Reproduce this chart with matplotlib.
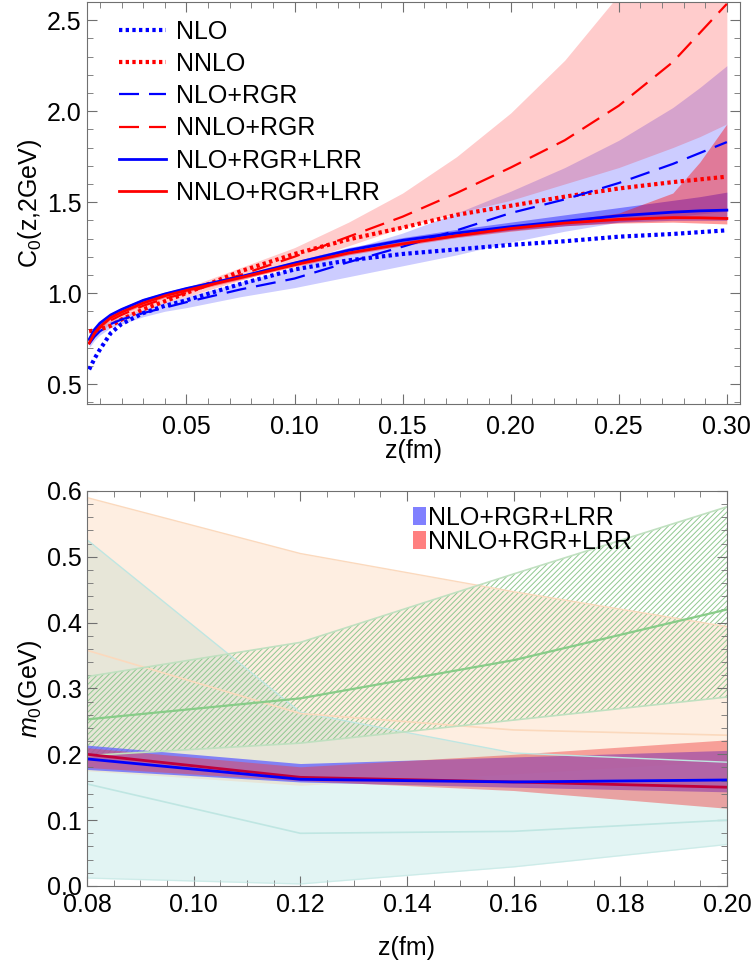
import numpy as np
import matplotlib
matplotlib.use("Agg")
import matplotlib.pyplot as plt
from matplotlib.patches import Patch
from matplotlib.ticker import MultipleLocator

plt.rcParams['font.family'] = ['Liberation Sans', 'DejaVu Sans']
plt.rcParams['mathtext.fontset'] = 'custom'
plt.rcParams['mathtext.rm'] = 'Liberation Sans'
plt.rcParams['mathtext.it'] = 'Liberation Sans:italic'
plt.rcParams['hatch.linewidth'] = 0.7

FS = 18

# ---- top panel: C0(z, 2GeV) ----
z_top = [0.005, 0.0075, 0.01, 0.015, 0.02, 0.03, 0.04, 0.05, 0.075, 0.10, 0.125,
         0.15, 0.175, 0.20, 0.225, 0.25, 0.275, 0.2875, 0.30]

nlo = [0.58, 0.64, 0.69, 0.78, 0.83, 0.89, 0.93, 0.96, 1.05, 1.13, 1.18,
       1.215, 1.24, 1.265, 1.285, 1.31, 1.325, 1.335, 1.345]
nnlo = [0.79, 0.795, 0.80, 0.82, 0.855, 0.91, 0.955, 1.0, 1.12, 1.215, 1.295,
        1.36, 1.43, 1.48, 1.53, 1.575, 1.61, 1.625, 1.64]
nlo_rgr = [0.72, 0.76, 0.79, 0.83, 0.855, 0.89, 0.92, 0.95, 1.02, 1.08, 1.17,
           1.255, 1.345, 1.44, 1.515, 1.605, 1.71, 1.77, 1.83]
nnlo_rgr = [0.74, 0.78, 0.81, 0.85, 0.88, 0.93, 0.97, 1.0, 1.10, 1.20, 1.31,
            1.42, 1.55, 1.69, 1.84, 2.03, 2.27, 2.43, 2.59]
nlo_lrr = [0.745, 0.80, 0.835, 0.88, 0.91, 0.96, 0.995, 1.025, 1.09, 1.165, 1.235,
           1.29, 1.33, 1.365, 1.395, 1.425, 1.445, 1.452, 1.456]
nnlo_lrr = [0.725, 0.78, 0.815, 0.865, 0.895, 0.945, 0.985, 1.015, 1.085, 1.155, 1.22,
            1.27, 1.315, 1.355, 1.385, 1.405, 1.415, 1.414, 1.41]

nlo_rgr_lo = [0.70, 0.74, 0.77, 0.81, 0.83, 0.87, 0.90, 0.92, 0.98, 1.03, 1.09,
              1.15, 1.21, 1.28, 1.34, 1.39, 1.42, 1.435, 1.45]
nlo_rgr_hi = [0.74, 0.78, 0.81, 0.85, 0.87, 0.91, 0.95, 0.98, 1.06, 1.14, 1.24,
              1.33, 1.44, 1.56, 1.69, 1.84, 2.02, 2.13, 2.25]
nnlo_rgr_lo = [0.72, 0.76, 0.79, 0.83, 0.86, 0.91, 0.95, 0.98, 1.07, 1.16, 1.26,
               1.36, 1.44, 1.51, 1.60, 1.69, 1.80, 1.86, 1.93]
nnlo_rgr_hi = [0.76, 0.80, 0.83, 0.87, 0.90, 0.95, 0.99, 1.03, 1.14, 1.25, 1.39,
               1.55, 1.75, 1.99, 2.28, 2.64, 3.07, 3.32, 3.6]
nlo_lrr_lo = [0.735, 0.79, 0.825, 0.87, 0.90, 0.95, 0.985, 1.015, 1.08, 1.155, 1.22,
              1.27, 1.31, 1.345, 1.37, 1.39, 1.40, 1.40, 1.40]
nlo_lrr_hi = [0.755, 0.81, 0.845, 0.89, 0.92, 0.97, 1.005, 1.035, 1.10, 1.175, 1.25,
              1.305, 1.35, 1.39, 1.43, 1.47, 1.51, 1.53, 1.555]
nnlo_lrr_lo = [0.715, 0.77, 0.805, 0.855, 0.885, 0.935, 0.975, 1.005, 1.075, 1.145, 1.21,
               1.26, 1.305, 1.34, 1.37, 1.385, 1.39, 1.385, 1.38]
nnlo_lrr_hi = [0.735, 0.79, 0.825, 0.875, 0.905, 0.955, 0.995, 1.025, 1.095, 1.165, 1.23,
               1.285, 1.33, 1.37, 1.40, 1.44, 1.55, 1.72, 1.93]

# ---- bottom panel: m0 ----
z_bot = [0.08, 0.12, 0.16, 0.20]
m_nlo = [0.193, 0.162, 0.158, 0.161]
m_nlo_lo = [0.177, 0.158, 0.150, 0.143]
m_nlo_hi = [0.214, 0.186, 0.196, 0.206]
m_nnlo = [0.200, 0.165, 0.158, 0.150]
m_nnlo_lo = [0.180, 0.160, 0.145, 0.118]
m_nnlo_hi = [0.210, 0.181, 0.200, 0.222]
cyan_mid = [0.155, 0.080, 0.083, 0.100]
cyan_lo = [0.012, 0.003, 0.029, 0.063]
cyan_hi = [0.526, 0.264, 0.202, 0.188]
orange_mid = [0.358, 0.262, 0.237, 0.229]
orange_lo = [0.175, 0.153, 0.170, 0.190]
orange_hi = [0.590, 0.505, 0.447, 0.394]
green_mid = [0.253, 0.285, 0.343, 0.420]
green_lo = [0.198, 0.217, 0.252, 0.287]
green_hi = [0.318, 0.370, 0.474, 0.576]

fig = plt.figure(figsize=(7.53, 9.65), dpi=100)
ax1 = fig.add_axes([0.1155, 0.5813, 0.867, 0.4166])
ax2 = fig.add_axes([0.1155, 0.0819, 0.85, 0.4093])

# bands
ax1.fill_between(z_top, nlo_rgr_lo, nlo_rgr_hi, color='#0000ff', alpha=0.2, lw=0)
ax1.fill_between(z_top, nnlo_rgr_lo, nnlo_rgr_hi, color='#ff0000', alpha=0.2, lw=0)
ax1.fill_between(z_top, nlo_lrr_lo, nlo_lrr_hi, color='#0000ff', alpha=0.4, lw=0)
ax1.fill_between(z_top, nnlo_lrr_lo, nnlo_lrr_hi, color='#ff0000', alpha=0.4, lw=0)

dot = (0, (0.8, 0.8))
dash = (0, (9, 4.5))
ax1.plot(z_top, nlo, color='#0000ff', ls=dot, lw=3, label='NLO')
ax1.plot(z_top, nnlo, color='#ff0000', ls=dot, lw=3, label='NNLO')
ax1.plot(z_top, nlo_rgr, color='#0000ff', ls=dash, lw=1.6, label='NLO+RGR')
ax1.plot(z_top, nnlo_rgr, color='#ff0000', ls=dash, lw=1.6, label='NNLO+RGR')
ax1.plot(z_top, nlo_lrr, color='#0000ff', lw=2, label='NLO+RGR+LRR')
ax1.plot(z_top, nnlo_lrr, color='#ff0000', lw=2, label='NNLO+RGR+LRR')

ax1.set_xlim(0.004, 0.306)
ax1.set_ylim(0.39, 2.60)
ax1.xaxis.set_minor_locator(MultipleLocator(0.01))
ax1.yaxis.set_major_locator(MultipleLocator(0.5))
ax1.yaxis.set_minor_locator(MultipleLocator(0.1))
ax1.set_xticks([0.05, 0.10, 0.15, 0.20, 0.25, 0.30])
ax1.set_xticklabels(['0.05', '0.10', '0.15', '0.20', '0.25', '0.30'])
ax1.set_xlabel('z(fm)', fontsize=FS, labelpad=0)
ax1.set_ylabel('C$_0$(z,2GeV)', fontsize=FS, labelpad=2)
ax1.legend(loc='upper left', bbox_to_anchor=(0.022, 1.0), frameon=False, fontsize=FS,
           handlelength=1.9, handletextpad=0.4, labelspacing=0.33, borderaxespad=0.3)

# bottom panel
def band(ax, lo, hi, mid, fc, ec, alpha, lo_edge=True):
    ax.fill_between(z_bot, lo, hi, color=fc, alpha=alpha, lw=0)
    if lo_edge:
        ax.plot(z_bot, lo, color=ec, lw=1, alpha=0.6)
    ax.plot(z_bot, hi, color=ec, lw=1)
    ax.plot(z_bot, mid, color=ec, lw=1.2)

band(ax2, cyan_lo, cyan_hi, cyan_mid, '#8fd6d2', '#bfe6e2', 0.25)
band(ax2, orange_lo, orange_hi, orange_mid, '#fbb57a', '#fbd9bd', 0.22, lo_edge=False)
ax2.fill_between(z_bot, green_lo, green_hi, facecolor='none', edgecolor='#90c890',
                 hatch='//////', lw=0)
ax2.plot(z_bot, green_lo, color='#c0e0c0', lw=1.2)
ax2.plot(z_bot, green_hi, color='#c0e0c0', lw=1.2)
ax2.plot(z_bot, green_mid, color='#88cc88', lw=1.6)

ax2.plot(z_bot, m_nnlo, color='#c0003c', lw=2)
ax2.fill_between(z_bot, m_nlo_lo, m_nlo_hi, color='#6060ff', alpha=0.75, lw=0)
ax2.fill_between(z_bot, m_nnlo_lo, m_nnlo_hi, color='#f04040', alpha=0.45, lw=0)
ax2.plot(z_bot, m_nlo, color='#0000ff', lw=2)

ax2.set_xlim(0.08, 0.20)
ax2.set_ylim(0.0, 0.6)
ax2.xaxis.set_minor_locator(MultipleLocator(0.005))
ax2.yaxis.set_minor_locator(MultipleLocator(0.02))
ax2.set_xticks([0.08, 0.10, 0.12, 0.14, 0.16, 0.18, 0.20])
ax2.set_xticklabels(['0.08', '0.10', '0.12', '0.14', '0.16', '0.18', '0.20'])
ax2.set_yticks([0.0, 0.1, 0.2, 0.3, 0.4, 0.5, 0.6])
ax2.set_yticklabels(['0.0', '0.1', '0.2', '0.3', '0.4', '0.5', '0.6'])
ax2.set_xlabel('z(fm)', fontsize=FS, labelpad=14)
ax2.set_ylabel('$m_0$(GeV)', fontsize=FS, labelpad=2)
handles = [Patch(facecolor='#8080ff', edgecolor='none'), Patch(facecolor='#ff8080', edgecolor='none')]
ax2.legend(handles, ['NLO+RGR+LRR', 'NNLO+RGR+LRR'], loc='upper left',
           bbox_to_anchor=(0.475, 1.02), frameon=False, fontsize=FS,
           handlelength=0.5, handleheight=0.7, handletextpad=0.1, labelspacing=0.0)

for ax in (ax1, ax2):
    for s in ax.spines.values():
        s.set_color('#707070')
    ax.tick_params(which='both', direction='in', top=True, right=True, color='#707070',
                   labelsize=FS, labelcolor='black')
    ax.tick_params(which='major', length=7)
    ax.tick_params(which='minor', length=4)
    ax.tick_params(axis='y', which='major', pad=4)
ax1.tick_params(axis='x', which='major', pad=8)
ax2.tick_params(axis='x', which='major', pad=5)

fig.savefig('out.png', dpi=100)
